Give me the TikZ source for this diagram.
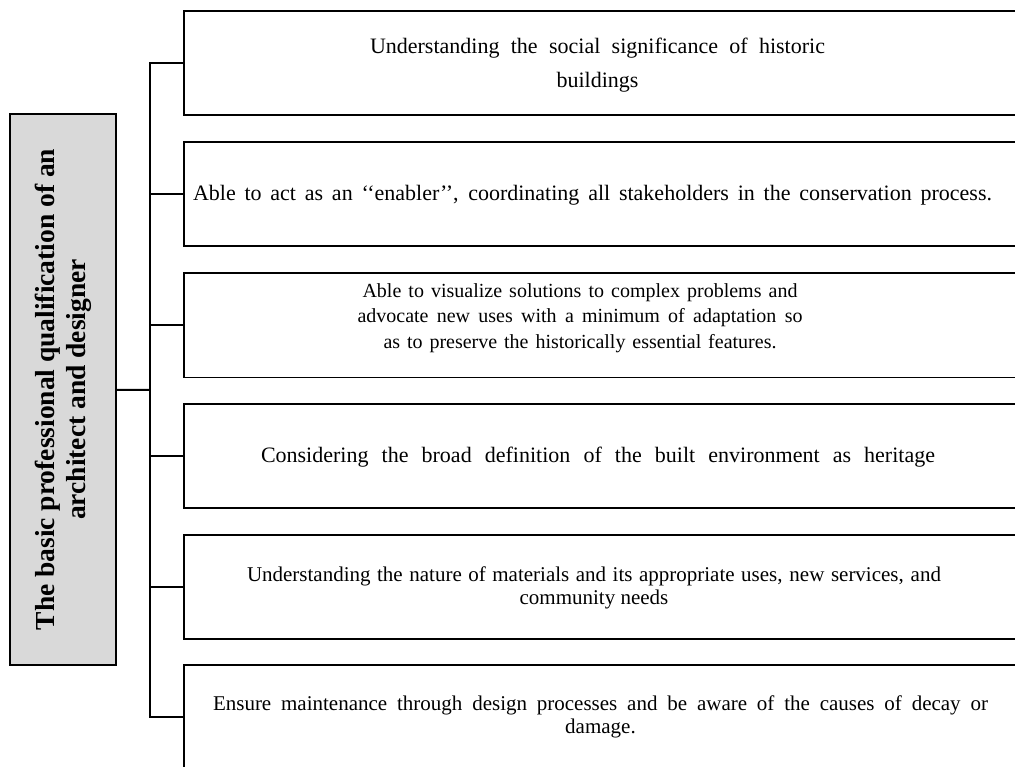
\documentclass[tikz,border=0pt]{standalone}
\usepackage{fontspec}
\setmainfont{Liberation Serif}
\definecolor{mainfill}{RGB}{217,217,217}
% a line of text spread to a given width by stretching its word spaces
\newcommand{\spreadline}[2]{\makebox[#1pt][s]{#2}}
\begin{document}
\begin{tikzpicture}[x=1pt,y=-1pt,
  frame/.style={draw=black, line width=1.8pt},
  itembox/.style={frame, rectangle, anchor=north west, minimum width=850pt, minimum height=104pt, inner sep=0pt},
  itemtext/.style={align=center, inner sep=0pt, font=\fontsize{21}{25.5}\selectfont},
  mainbox/.style={frame, fill=mainfill, rectangle, rotate=90, minimum width=551pt, minimum height=106pt, inner sep=0pt, align=center, font=\bfseries\fontsize{27.5}{31}\selectfont},
  link/.style={draw=black, line width=2pt}
]
\useasboundingbox (0,0) rectangle (1015,767);
\clip (0,0) rectangle (1015,767);

% central heading, set vertically
\node[mainbox] (main) at (63,389.5) {The basic professional qualification of an\\architect and designer};

% the six qualification boxes
\node[itembox] (b1) at (183,10) {};
\node[itembox] (b2) at (183,141) {};
\node[itembox] (b3) at (183,272.5) {};
\node[itembox] (b4) at (183,403) {};
\node[itembox] (b5) at (183,534) {};
\node[itembox] (b6) at (183,664) {};

% box texts
\node[itemtext, font=\fontsize{22}{34}\selectfont] (t1) at (597.5,65)
  {\spreadline{455}{Understanding  the social significance  of historic}\\buildings};
\node[itemtext, font=\fontsize{22}{25.5}\selectfont] (t2) at (592.5,195)
  {\spreadline{799}{Able to act as an ‘‘enabler’’, coordinating all stakeholders in the conservation process.}};
\node[itemtext, font=\fontsize{20}{25.5}\selectfont] (t3) at (580,318)
  {\spreadline{435}{Able to visualize solutions to complex problems and}\\
   \spreadline{445}{advocate new uses with a minimum of adaptation so}\\
   \spreadline{393}{as to preserve the historically essential features.}};
\node[itemtext, font=\fontsize{22}{25.5}\selectfont] (t4) at (598,457)
  {\spreadline{674}{Considering the broad definition of the built environment as heritage}};
\node[itemtext, font=\fontsize{21}{22.5}\selectfont] (t5) at (594,588)
  {\spreadline{694}{Understanding the nature of materials and its appropriate uses, new services, and}\\community needs};
\node[itemtext, font=\fontsize{21}{22.5}\selectfont] (t6) at (600.5,717)
  {\spreadline{775}{Ensure maintenance through design processes and be aware of the causes of decay or}\\damage.};

% tree connectors
\coordinate (trunk) at (150,390);
\draw[link] (main) -- (trunk);
\draw[link] (b1.west) -- (b1.west -| trunk) -- (b6.west -| trunk) -- (b6.west);
\foreach \b in {b2,b3,b4,b5}
  \draw[link] (\b.west) -- (\b.west -| trunk);
\end{tikzpicture}
\end{document}
